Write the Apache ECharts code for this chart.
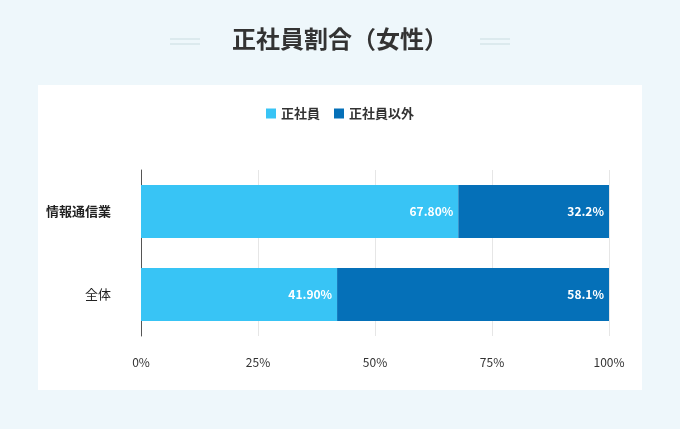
<!DOCTYPE html>
<html><head><meta charset="utf-8">
<script src="https://cdn.jsdelivr.net/npm/echarts@6/dist/echarts.min.js"></script>
<style>html,body{margin:0;padding:0;background:#eef7fb;}#c{width:680px;height:429px;}</style>
</head><body><div id="c"></div>
<script>
const categories = ['全体', '情報通信業'];
const seriesNames = ['正社員', '正社員以外'];
const regular = [41.9, 67.8];
const nonRegular = [58.1, 32.2];
const regularLabels = ['41.90%', '67.80%'];
const nonRegularLabels = ['58.1%', '32.2%'];
const xTicks = ['0%', '25%', '50%', '75%', '100%'];

const chart = echarts.init(document.getElementById('c'));
const font = '"Noto Sans CJK JP", "Noto Sans", sans-serif';
const lineStyle = {stroke: '#dceaee', lineWidth: 2};
chart.setOption({
  backgroundColor: '#eef7fb',
  textStyle: {fontFamily: font},
  title: {text: '正社員割合（女性）', left: 'center', top: 22,
    textStyle: {fontSize: 24, fontWeight: 'bold', color: '#333', fontFamily: font}},
  graphic: [
    {type: 'rect', shape: {x: 38, y: 85, width: 604, height: 305}, style: {fill: '#fff'}, z: -10},
    {type: 'line', shape: {x1: 170, y1: 39, x2: 200, y2: 39}, style: lineStyle},
    {type: 'line', shape: {x1: 170, y1: 44, x2: 200, y2: 44}, style: lineStyle},
    {type: 'line', shape: {x1: 480, y1: 39, x2: 510, y2: 39}, style: lineStyle},
    {type: 'line', shape: {x1: 480, y1: 44, x2: 510, y2: 44}, style: lineStyle}
  ],
  legend: {top: 102, left: 'center', itemWidth: 10, itemHeight: 10, itemGap: 14, icon: 'rect',
    textStyle: {fontSize: 13, color: '#333', fontWeight: 'bold'}},
  grid: {left: 141, right: 71, top: 170, bottom: 93},
  xAxis: {type: 'value', min: 0, max: 100, interval: 25,
    axisLabel: {margin: 20, color: '#333', fontSize: 12,
      formatter: v => xTicks[Math.round(v / 25)]},
    splitLine: {lineStyle: {color: '#e6e6e6'}}, axisLine: {show: false}, axisTick: {show: false}},
  yAxis: {type: 'category', data: categories,
    axisLine: {show: true, lineStyle: {color: '#555'}}, axisTick: {show: false},
    axisLabel: {margin: 30, fontSize: 13, color: '#222',
      formatter: v => v === '情報通信業' ? '{b|' + v + '}' : v,
      rich: {b: {fontWeight: 'bold', fontSize: 13, color: '#222'}}}},
  series: [
    {name: seriesNames[0], type: 'bar', stack: 's', data: regular, barWidth: 53,
      itemStyle: {color: '#38c4f5'},
      label: {show: true, position: 'insideRight', color: '#fff', fontWeight: 'bold', fontSize: 12,
        formatter: p => regularLabels[p.dataIndex]}},
    {name: seriesNames[1], type: 'bar', stack: 's', data: nonRegular, barWidth: 53,
      itemStyle: {color: '#0570b8'},
      label: {show: true, position: 'insideRight', color: '#fff', fontWeight: 'bold', fontSize: 12,
        formatter: p => nonRegularLabels[p.dataIndex]}}
  ]
});
</script></body></html>
